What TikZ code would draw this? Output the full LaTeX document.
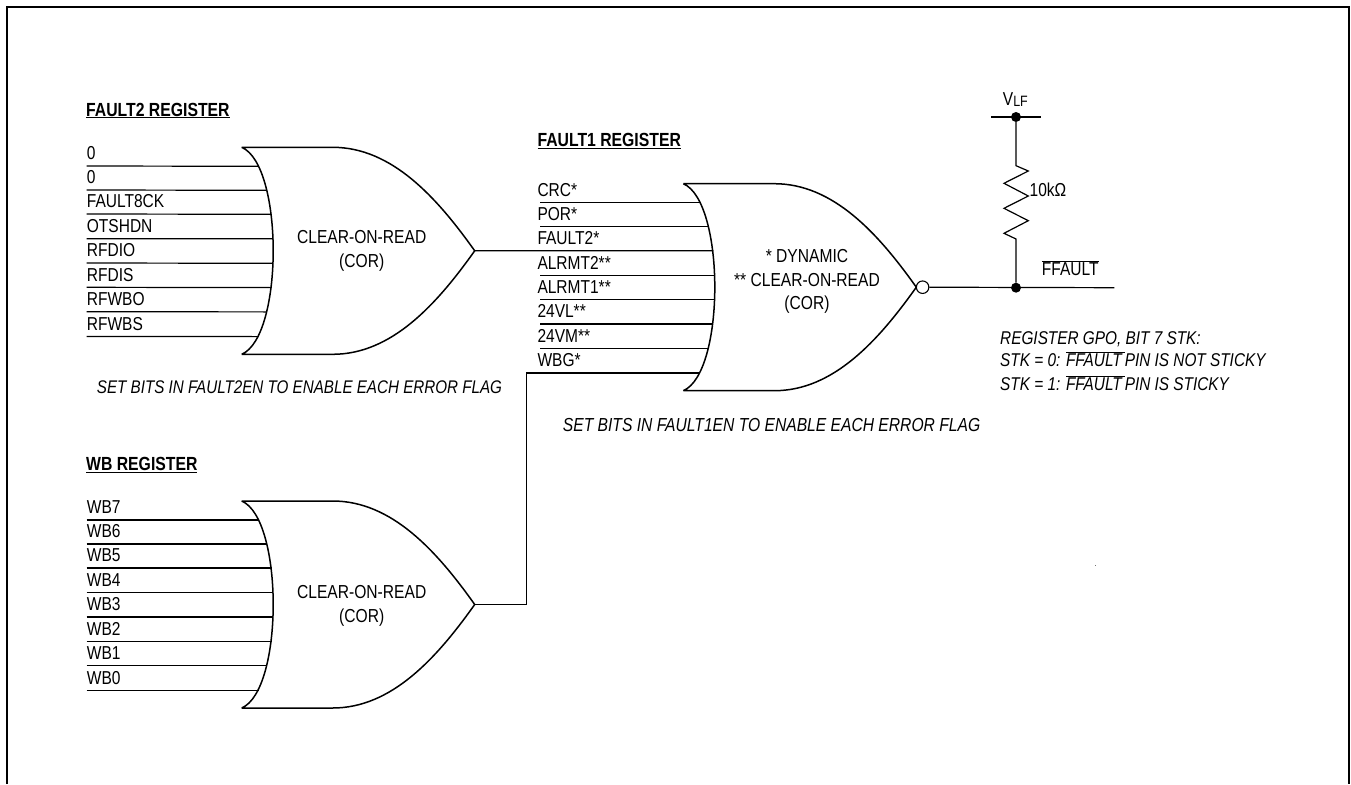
\documentclass[tikz,border=0pt]{standalone}
\usepackage{fontspec}
\setmainfont[FakeStretch=0.83]{Liberation Sans}
\usetikzlibrary{calc}
\newcommand{\barred}[1]{$\overline{\mbox{#1}}$}
\tikzset{
  wire/.style={line width=1.2pt},
  gateline/.style={line width=1.5pt},
  inlabel/.style={anchor=south west,inner xsep=0pt,inner ysep=6pt,text depth=0pt,
                  font=\fontsize{18.7}{20}\selectfont},
  title/.style={anchor=base west,inner sep=0pt,font=\fontsize{19}{20}\selectfont\bfseries},
  gatetext/.style={align=center,inner sep=0pt,font=\fontsize{18.8}{23.5}\selectfont},
  plain/.style={anchor=base west,inner sep=0pt,font=\fontsize{18.7}{20}\selectfont},
  note/.style={anchor=base west,inner sep=0pt,font=\fontsize{18.5}{20}\selectfont\itshape},
  dot/.style={circle,fill=black,inner sep=0pt,minimum size=10pt},
  orgate/.pic={
    \draw[gateline] (0,0) .. controls (42,18) and (42,189) .. (0,207)
      (0,0) -- (91,0) .. controls (150,0) and (195,50) .. (233,103.5)
      .. controls (195,157) and (150,207) .. (91,207) -- (0,207);
    \coordinate (-out) at (233,103.5);
    \coordinate (-in1) at (17,19);
    \coordinate (-in2) at (25,43);
    \coordinate (-in3) at (30,67);
    \coordinate (-in4) at (31.5,91.5);
    \coordinate (-in5) at (31.5,116);
    \coordinate (-in6) at (30,140.3);
    \coordinate (-in7) at (25,164.6);
    \coordinate (-in8) at (17,189.3);
  },
}

\begin{document}
\begin{tikzpicture}[x=1pt,y=-1pt]
\useasboundingbox (0,0) rectangle (1351,784);
\draw[line width=2pt] (7,784) -- (7,7) -- (1349,7) -- (1349,784);

% FAULT2 register
\node[title] (faulttwo) at (86,116) {\underline{FAULT2 REGISTER}};
\pic (gone) at (241.7,147.3) {orgate};
\node[gatetext] (gonetext) at (361.7,251) {CLEAR-ON-READ\\(COR)};
\node[inlabel] (a0) at (86.7,166) {0};
\node[inlabel] (a1) at (86.7,190) {0};
\node[inlabel] (a2) at (86.7,214) {FAULT8CK};
\node[inlabel] (a3) at (86.7,238.7) {OTSHDN};
\node[inlabel] (a4) at (86.7,263) {RFDIO};
\node[inlabel] (a5) at (86.7,287.3) {RFDIS};
\node[inlabel] (a6) at (86.7,311.7) {RFWBO};
\node[inlabel] (a7) at (86.7,336.5) {RFWBS};
\draw[wire] (a0.south west) -- (gone-in1);
\draw[wire] (a1.south west) -- (gone-in2);
\draw[wire] (a2.south west) -- (gone-in3);
\draw[wire] (a3.south west) -- (gone-in4);
\draw[wire] (a4.south west) -- (gone-in5);
\draw[wire] (a5.south west) -- (gone-in6);
\draw[wire] (a6.south west) -- (gone-in7);
\draw[wire] (a7.south west) -- (gone-in8);
\node[note] (enabletwo) at (96.7,393.3) {\fontsize{18.3}{20}\selectfont SET BITS IN FAULT2EN TO ENABLE EACH ERROR FLAG};

% WB register
\node[title] (wbreg) at (86,470.7) {\underline{WB REGISTER}};
\pic (gthree) at (241.7,501) {orgate};
\node[gatetext] (gthreetext) at (361.7,606) {CLEAR-ON-READ\\(COR)};
\node[inlabel] (b0) at (86.7,520) {WB7};
\node[inlabel] (b1) at (86.7,544) {WB6};
\node[inlabel] (b2) at (86.7,568) {WB5};
\node[inlabel] (b3) at (86.7,592.5) {WB4};
\node[inlabel] (b4) at (86.7,617) {WB3};
\node[inlabel] (b5) at (86.7,641.3) {WB2};
\node[inlabel] (b6) at (86.7,665.6) {WB1};
\node[inlabel] (b7) at (86.7,690.3) {WB0};
\draw[wire] (b0.south west) -- (gthree-in1);
\draw[wire] (b1.south west) -- (gthree-in2);
\draw[wire] (b2.south west) -- (gthree-in3);
\draw[wire] (b3.south west) -- (gthree-in4);
\draw[wire] (b4.south west) -- (gthree-in5);
\draw[wire] (b5.south west) -- (gthree-in6);
\draw[wire] (b6.south west) -- (gthree-in7);
\draw[wire] (b7.south west) -- (gthree-in8);

% FAULT1 register
\node[title] (faultone) at (537.3,146.7) {\underline{FAULT1 REGISTER}};
\pic (gtwo) at (683.3,183.7) {orgate};
\node[gatetext] (gtwotext) at (807,281.5) {* DYNAMIC\\** CLEAR-ON-READ\\(COR)};
\node[inlabel] (c0) at (537.3,202.7) {CRC*};
\node[inlabel] (c1) at (537.3,226.7) {POR*};
\node[inlabel] (c2) at (537.3,250.7) {FAULT2*};
\node[inlabel] (c3) at (537.3,275.2) {ALRMT2**};
\node[inlabel] (c4) at (537.3,299.7) {ALRMT1**};
\node[inlabel] (c5) at (537.3,324) {24VL**};
\node[inlabel] (c6) at (537.3,348.3) {24VM**};
\node[inlabel] (c7) at (537.3,373) {WBG*};
\draw[wire] ([xshift=3pt]c0.south west) -- (gtwo-in1);
\draw[wire] ([xshift=3pt]c1.south west) -- (gtwo-in2);
\draw[wire] (gone-out) -- (gtwo-in3);
\draw[wire] ([xshift=3pt]c3.south west) -- (gtwo-in4);
\draw[wire] ([xshift=3pt]c4.south west) -- (gtwo-in5);
\draw[wire] ([xshift=3pt]c5.south west) -- (gtwo-in6);
\draw[wire] ([xshift=3pt]c6.south west) -- (gtwo-in7);
\coordinate (jog) at (526.7,604.5);
\draw[wire] (gthree-out) -- (jog) |- (gtwo-in8);
\node[note] (enableone) at (562.7,431.7) {\fontsize{18.85}{20}\selectfont SET BITS IN FAULT1EN TO ENABLE EACH ERROR FLAG};

% output and pull-up
\node[circle,draw,line width=1.1pt,fill=white,inner sep=0pt,minimum size=12.5pt] (bubble)
  at ($(gtwo-out)+(6.3,0)$) {};
\node[dot] (vlf) at (1016,117) {};
\node[dot] (fnode) at (1016,287.7) {};
\coordinate (railw) at (991,117);
\coordinate (raile) at (1041,117);
\coordinate (outend) at (1114.3,287.7);
\draw[wire] (railw) -- (raile);
\draw[wire] (bubble) -- (outend);
\draw[wire] (vlf) -- (1016,165.7) -- (1028.3,171) -- (1004,183.3) -- (1028.3,196)
  -- (1004,208.3) -- (1028.3,220.7) -- (1004,233.3) -- (1016,239) -- (fnode);
\node[plain] (vlabel) at (1002.7,105.7) {V\fontsize{15}{15}\selectfont\raisebox{-1pt}{LF}};
\node[plain] (rlabel) at (1029.5,196) {10kΩ};
\node[plain] (flabel) at (1041.7,275) {\barred{FFAULT}};
\node[note] (stkhead) at (1000,344.3) {REGISTER GPO, BIT 7 STK:};
\node[note] (stkzero) at (1000,366.7) {STK = 0: \barred{FFAULT\kern3pt}PIN IS NOT STICKY};
\node[note] (stkone) at (1000,390) {STK = 1: \barred{FFAULT\kern3pt}PIN IS STICKY};
\node[inner sep=0pt,font=\fontsize{8}{8}\selectfont] (speck) at (1095.5,566) {.};
\end{tikzpicture}
\end{document}
